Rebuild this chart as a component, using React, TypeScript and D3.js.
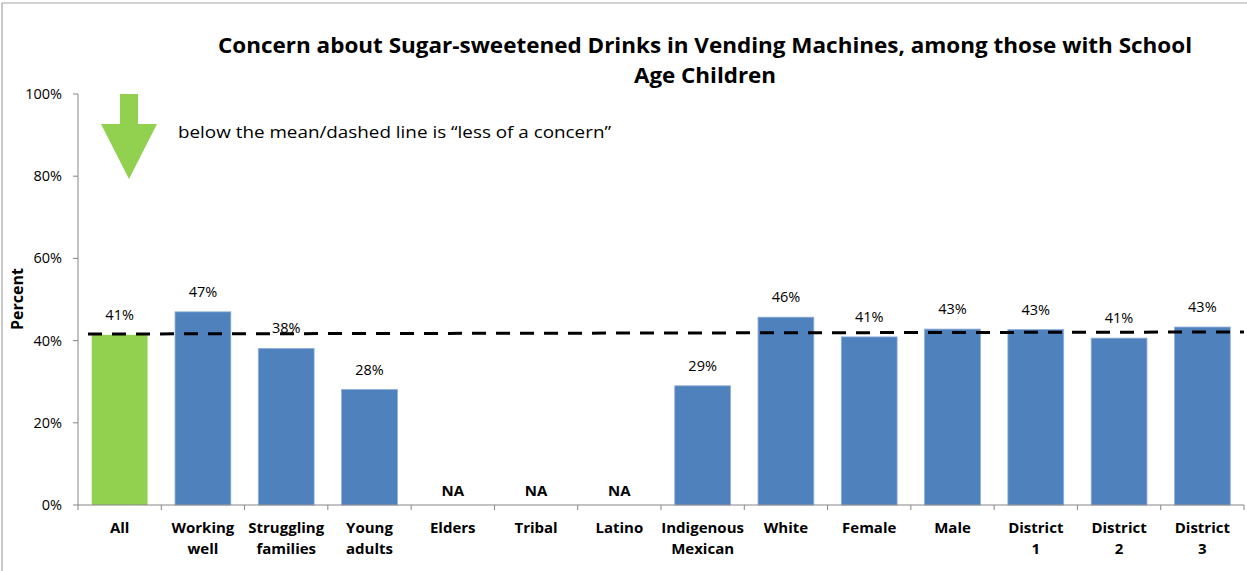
import React from "react";
import * as d3 from "d3";

const categories: string[][] = [
  ["All"],
  ["Working", "well"],
  ["Struggling", "families"],
  ["Young", "adults"],
  ["Elders"],
  ["Tribal"],
  ["Latino"],
  ["Indigenous", "Mexican"],
  ["White"],
  ["Female"],
  ["Male"],
  ["District", "1"],
  ["District", "2"],
  ["District", "3"],
];
const values: (number | null)[] = [41.4, 47.0, 38.1, 28.1, null, null, null, 29.0, 45.7, 40.9, 42.8, 42.7, 40.6, 43.3];
const valueLabels: string[] = ["41%", "47%", "38%", "28%", "NA", "NA", "NA", "29%", "46%", "41%", "43%", "43%", "41%", "43%"];
const yTicks: number[] = [0, 20, 40, 60, 80, 100];
const meanLine: number[] = [41.6, 42.1];
const titleLines: string[] = [
  "Concern about Sugar-sweetened Drinks in Vending Machines, among those with School",
  "Age Children",
];
const note = "below the mean/dashed line is \u201cless of a concern\u201d";

const W = 1247;
const H = 571;
const margin = { left: 78, right: 3, top: 94, bottom: 66 };
const FONT = "'Open Sans', 'Noto Sans', sans-serif";

export default function App() {
  const x = d3
    .scaleBand<number>()
    .domain(categories.map((_, i) => i))
    .range([margin.left, W - margin.right])
    .paddingInner(0.33)
    .paddingOuter(0.165);
  const y = d3.scaleLinear().domain([0, 100]).range([H - margin.bottom, margin.top]);
  const step = x.step();
  const x0 = margin.left;
  const y0 = y(0);
  const axisColor = "#868686";

  return (
    <svg width={W} height={H} style={{ position: "absolute", left: 0, top: 0, background: "#fff" }}>
      {/* frame */}
      <line x1={2} y1={3} x2={W} y2={3} stroke="#a6a6a6" strokeWidth={1.2} />
      <line x1={2} y1={3} x2={2} y2={H} stroke="#a6a6a6" strokeWidth={1.2} />

      {/* title */}
      {titleLines.map((t, i) => (
        <text
          key={i}
          x={705}
          y={53 + i * 30}
          textAnchor="middle"
          fontFamily={FONT}
          fontWeight="bold"
          fontSize={22}
          fill="#000"
          textLength={i === 0 ? 974 : 142}
          lengthAdjust="spacingAndGlyphs"
        >
          {t}
        </text>
      ))}

      {/* y axis */}
      <line x1={x0} y1={y(100)} x2={x0} y2={y0} stroke={axisColor} strokeWidth={1} />
      {yTicks.map((t) => (
        <g key={t}>
          <line x1={x0 - 5} x2={x0} y1={y(t)} y2={y(t)} stroke={axisColor} />
          <text
            x={62}
            y={y(t) + 5}
            textAnchor="end"
            fontFamily={FONT}
            fontSize={14.5}
            fill="#000"
          >
            {t}%
          </text>
        </g>
      ))}
      <text
        transform={`translate(23, 299) rotate(-90)`}
        textAnchor="middle"
        fontFamily={FONT}
        fontWeight="bold"
        fontSize={16}
        fill="#000"
      >
        Percent
      </text>

      {/* bars */}
      {values.map((v, i) =>
        v === null ? null : (
          <rect
            key={i}
            x={x(i)}
            y={y(v)}
            width={x.bandwidth()}
            height={y0 - y(v)}
            fill={i === 0 ? "#92d050" : "#4f81bd"}
            stroke={i === 0 ? "none" : "#8fb0d9"}
            strokeWidth={0.8}
          />
        )
      )}

      {/* x axis */}
      <line x1={x0} x2={W - margin.right} y1={y0} y2={y0} stroke={axisColor} />
      {categories.map((_, i) => (
        <line
          key={i}
          x1={x0 + i * step}
          x2={x0 + i * step}
          y1={y0}
          y2={y0 + 5}
          stroke={axisColor}
        />
      ))}
      <line x1={W - margin.right} x2={W - margin.right} y1={y0} y2={y0 + 5} stroke={axisColor} />

      {/* category labels */}
      {categories.map((lines, i) => (
        <text
          key={i}
          textAnchor="middle"
          fontFamily={FONT}
          fontWeight="bold"
          fontSize={15}
          fill="#000"
        >
          {lines.map((l, j) => (
            <tspan key={j} x={(x(i) as number) + x.bandwidth() / 2} y={533 + j * 21}>
              {l}
            </tspan>
          ))}
        </text>
      ))}

      {/* value labels */}
      {values.map((v, i) => (
        <text
          key={i}
          x={(x(i) as number) + x.bandwidth() / 2}
          y={v === null ? y0 - 9 : y(v) - 15}
          textAnchor="middle"
          fontFamily={FONT}
          fontWeight={v === null ? "bold" : "normal"}
          fontSize={v === null ? 15 : 14.5}
          fill="#000"
        >
          {valueLabels[i]}
        </text>
      ))}

      {/* mean dashed line */}
      <line
        x1={88}
        x2={W - margin.right}
        y1={y(meanLine[0])}
        y2={y(meanLine[1])}
        stroke="#000"
        strokeWidth={3}
        strokeDasharray="14 10"
      />

      {/* arrow */}
      <path
        d={`M120,94 L138,94 L138,124 L157,124 L129,179 L101,124 L120,124 Z`}
        fill="#92d050"
      />
      <text x={178} y={138} fontFamily={FONT} fontSize={16} fill="#000" textLength={433} lengthAdjust="spacingAndGlyphs">
        {note}
      </text>
    </svg>
  );
}
